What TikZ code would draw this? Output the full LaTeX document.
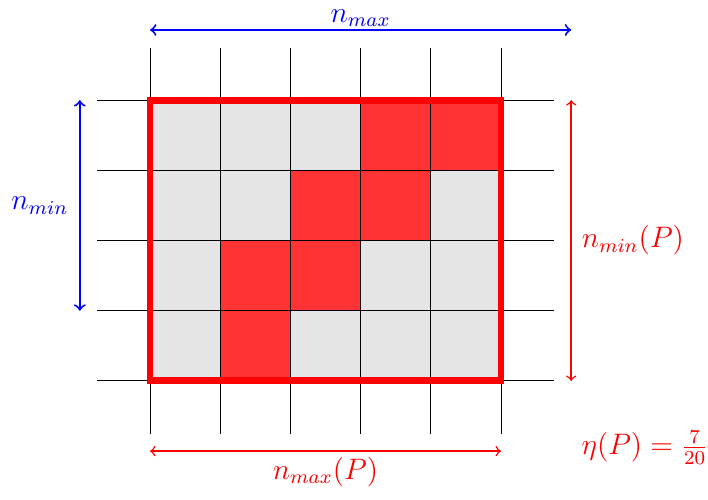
\documentclass[tikz,border=0pt]{standalone}
\begin{document}
\begin{tikzpicture}[
  cellgray/.style={fill=black!10},
  cellred/.style={fill=red!80},
  gridline/.style={line width=0.4pt,black},
  bluearrow/.style={<->,blue,thick},
  redarrow/.style={<->,red,semithick},
  lbl/.style={inner sep=2pt,font=\large}
]
\useasboundingbox (-2.137,-1.695) rectangle (7.949,5.427);
% cells
\fill[cellgray] (0,0) rectangle (5,4);
\foreach \x/\y in {3/3,4/3,2/2,3/2,1/1,2/1,1/0}
  \fill[cellred] (\x,\y) rectangle ++(1,1);
% grid
\foreach \x in {0,...,5} \draw[gridline] (\x,-0.75) -- (\x,4.75);
\foreach \y in {0,...,4} \draw[gridline] (-0.75,\y) -- (5.75,\y);
% border
\draw[red,line width=2.8pt] (0,0) rectangle (5,4);
% coordinates
\coordinate (tA) at (0,5);
\coordinate (tB) at (6,5);
\coordinate (lA) at (-1,4);
\coordinate (lB) at (-1,1);
\coordinate (rA) at (6,4);
\coordinate (rB) at (6,0);
\coordinate (bA) at (0,-1);
\coordinate (bB) at (5,-1);
\draw[bluearrow] (tA) -- (tB) node[midway,above,lbl,inner sep=1pt,text=blue] (nmax) {$n_{max}$};
\draw[bluearrow] (lA) -- (lB) node[midway,left,lbl,text=blue,xshift=-0.08cm] (nmin) {$n_{min}$};
\draw[redarrow] (rA) -- (rB) node[midway,right,lbl,text=red,xshift=0.07cm] (nminP) {$n_{min}(P)$};
\draw[redarrow] (bA) -- (bB) node[midway,below,lbl,text=red] (nmaxP) {$n_{max}(P)$};
\node[lbl,text=red] (eta) at (7.05,-0.95) {$\eta(P)=\frac{7}{20}$};
\end{tikzpicture}
\end{document}
